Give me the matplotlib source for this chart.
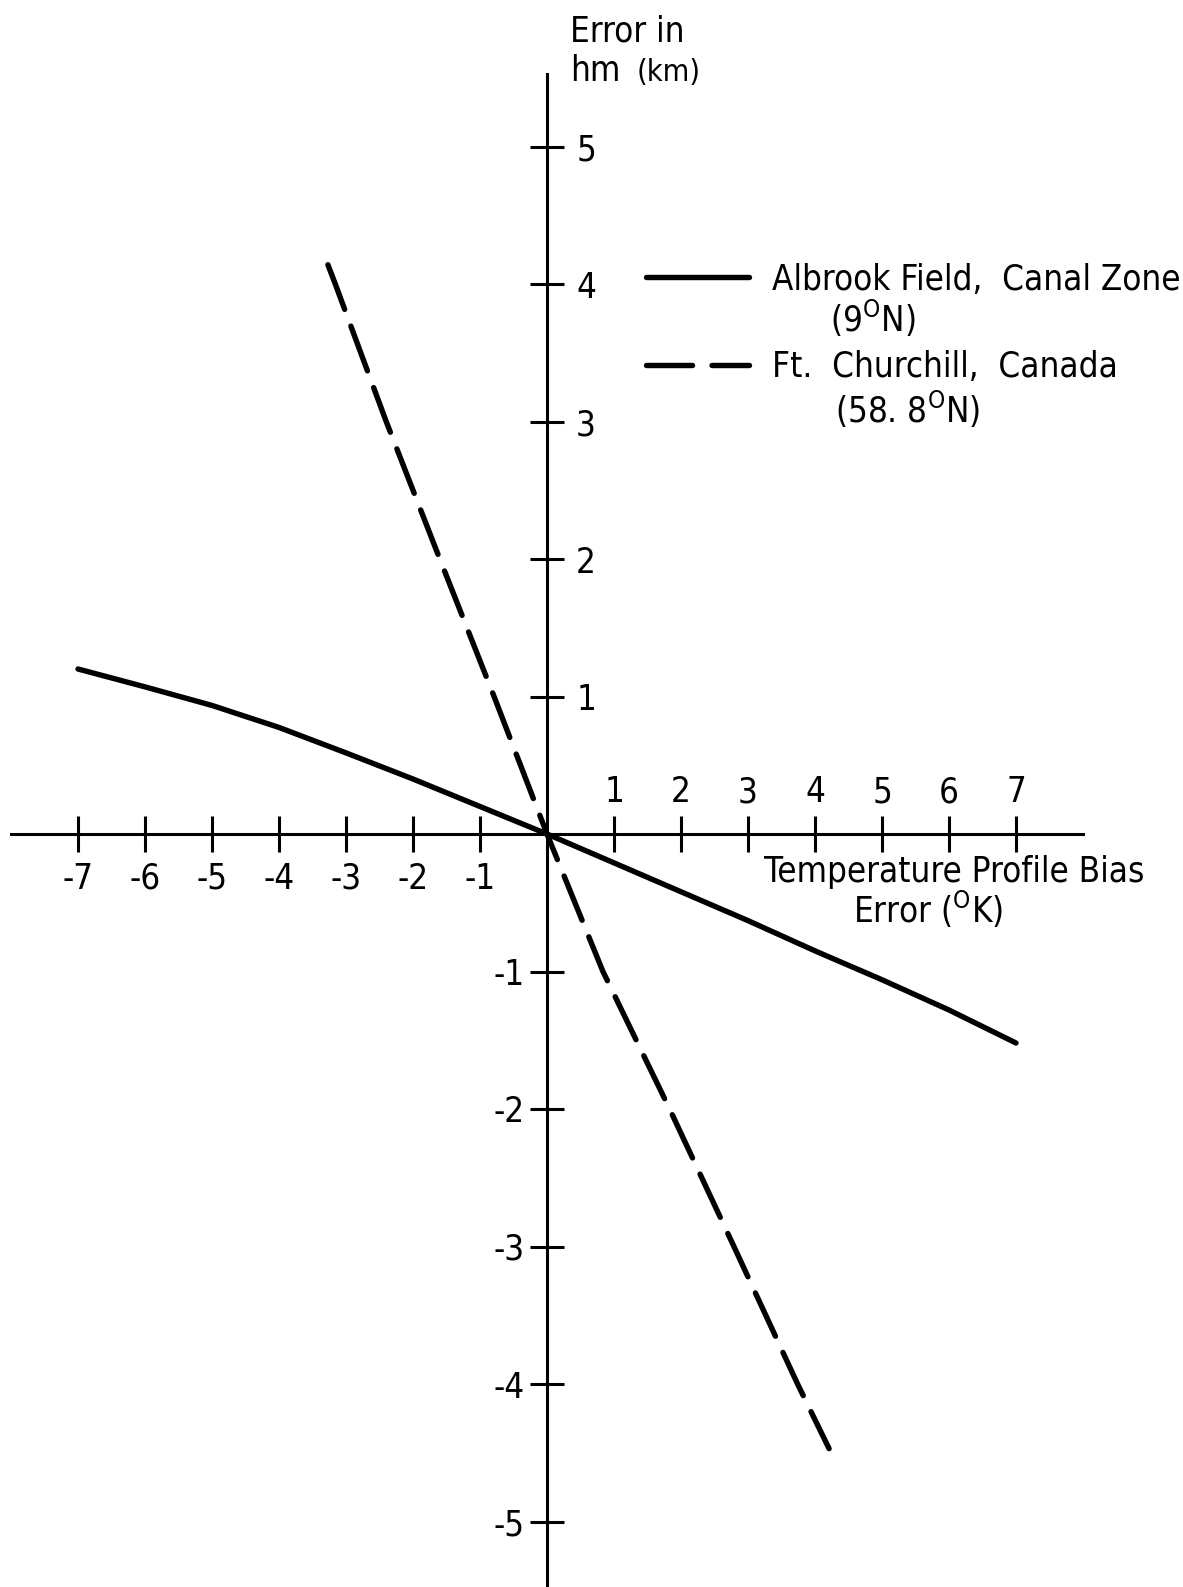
import matplotlib
matplotlib.use('Agg')
import matplotlib.pyplot as plt
from matplotlib import font_manager
from matplotlib.lines import Line2D

# narrow lettering: take a narrow face if there is one
_fonts = font_manager.fontManager.ttflist
_names = {f.name for f in _fonts}
if 'Liberation Sans Narrow' in _names:
    FAMILY, STRETCH, FS = 'Liberation Sans Narrow', 'normal', 26
elif any(f.name == 'DejaVu Sans' and f.stretch == 'condensed' for f in _fonts):
    FAMILY, STRETCH, FS = 'DejaVu Sans', 'condensed', 25
elif 'Roboto Condensed' in _names:
    FAMILY, STRETCH, FS = 'Roboto Condensed', 'normal', 25
else:
    FAMILY, STRETCH, FS = 'Liberation Sans', 'normal', 21

plt.rcParams['font.family'] = [FAMILY, 'DejaVu Sans']
plt.rcParams['font.stretch'] = STRETCH
plt.rcParams['mathtext.fontset'] = 'custom'
plt.rcParams['mathtext.rm'] = FAMILY

# Albrook Field, Canal Zone (9 N)
albrook_bias = [-7, -6, -5, -4, -3, -2, -1, 0, 1, 2, 3, 4, 5, 6, 7]
albrook_err = [1.20, 1.07, 0.935, 0.775, 0.59, 0.40, 0.20, 0.0,
               -0.21, -0.42, -0.63, -0.85, -1.06, -1.28, -1.52]

# Ft. Churchill, Canada (58.8 N)
churchill_bias = [-3.27, -3.16, -2.40, -1.60, -0.79, 0.0,
                  0.835, 1.83, 2.79, 3.74, 4.21]
churchill_err = [4.14, 4.0, 3.0, 2.0, 1.0, 0.0,
                 -1.0, -2.0, -3.0, -4.0, -4.47]

x_ticks = [-7, -6, -5, -4, -3, -2, -1, 1, 2, 3, 4, 5, 6, 7]
y_ticks = [-5, -4, -3, -2, -1, 1, 2, 3, 4, 5]

# canvas size in pixels, origin and scale of the cross axes
W, H = 1183, 1587
X0, Y0 = 547, 834
SX, SY = 67.0, 137.5

LW_AXIS = 2.2
LW_CURVE = 3.9

fig = plt.figure(figsize=(W / 100, H / 100), dpi=100)
ax = fig.add_axes([0, 0, 1, 1])
ax.set_xlim(-X0 / SX, (W - X0) / SX)
ax.set_ylim(-(H - Y0) / SY, Y0 / SY)


def fxy(x, y):
    """pixel position (from top left) -> figure fraction"""
    return x / W, 1 - y / H


# axes crossing at the origin
for side in ['bottom', 'top']:
    ax.spines[side].set_position(('data', 0))
    ax.spines[side].set_bounds(-8, 8)
    ax.spines[side].set_linewidth(LW_AXIS)
for side in ['left', 'right']:
    ax.spines[side].set_position(('data', 0))
    ax.spines[side].set_bounds(-5.6, 5.53)
    ax.spines[side].set_linewidth(LW_AXIS)
ax.spines['top'].set_visible(False)
ax.spines['right'].set_visible(False)

ax.set_xticks(x_ticks)
ax.set_yticks(y_ticks)
ax.set_xticklabels([str(v) for v in x_ticks])
ax.set_yticklabels([str(v) for v in y_ticks])
ax.tick_params(axis='both', direction='inout', width=LW_AXIS,
               labelsize=FS, colors='black')
ax.tick_params(axis='x', length=26, top=True, bottom=True,
               labeltop=True, labelbottom=True)
ax.tick_params(axis='y', length=24, left=True, right=True,
               labelleft=True, labelright=True)

# negative values below / left of the axes, positive above / right
for tick, v in zip(ax.xaxis.get_major_ticks(), x_ticks):
    tick.label1.set_visible(v < 0)
    tick.label2.set_visible(v > 0)
    tick.tick2line.set_visible(False)
    tick.set_pad(7 if v < 0 else 5)
for tick, v in zip(ax.yaxis.get_major_ticks(), y_ticks):
    tick.label1.set_visible(v < 0)
    tick.label2.set_visible(v > 0)
    tick.tick2line.set_visible(False)
    tick.set_pad(4 if v < 0 else 9)

# the two curves
ax.plot(albrook_bias, albrook_err, color='black', lw=LW_CURVE,
        solid_capstyle='round', solid_joinstyle='round')
ax.plot(churchill_bias, churchill_err, color='black', lw=LW_CURVE,
        dashes=(8.8, 3.3), dash_capstyle='round')

# axis titles
fig.text(*fxy(570, 41), 'Error in', fontsize=FS, va='baseline')
fig.text(*fxy(570, 81), 'hm', fontsize=FS, va='baseline')
fig.text(*fxy(637, 81), '(km)', fontsize=FS - 3, va='baseline')
fig.text(*fxy(764, 882), 'Temperature Profile Bias', fontsize=FS,
         va='baseline')
fig.text(*fxy(853, 923), r'Error ($^{\mathrm{O}}$K)', fontsize=FS,
         va='baseline')

# key
x1, y1 = fxy(646, 277)
x2, _ = fxy(749, 277)
fig.add_artist(Line2D([x1, x2], [y1, y1], color='black', lw=LW_CURVE,
                      solid_capstyle='round'))
x1, y1 = fxy(646, 365)
fig.add_artist(Line2D([x1, x2], [y1, y1], color='black', lw=LW_CURVE,
                      dashes=(8.5, 3.6), dash_capstyle='round'))
fig.text(*fxy(772, 290), 'Albrook Field,  Canal Zone', fontsize=FS,
         va='baseline')
fig.text(*fxy(830, 332), r'(9$^{\mathrm{O}}$N)', fontsize=FS,
         va='baseline')
fig.text(*fxy(772, 377), 'Ft.  Churchill,  Canada', fontsize=FS,
         va='baseline')
fig.text(*fxy(835, 423), r'(58. 8$^{\mathrm{O}}$N)', fontsize=FS,
         va='baseline')

fig.savefig('out.png', dpi=100, facecolor='white')
